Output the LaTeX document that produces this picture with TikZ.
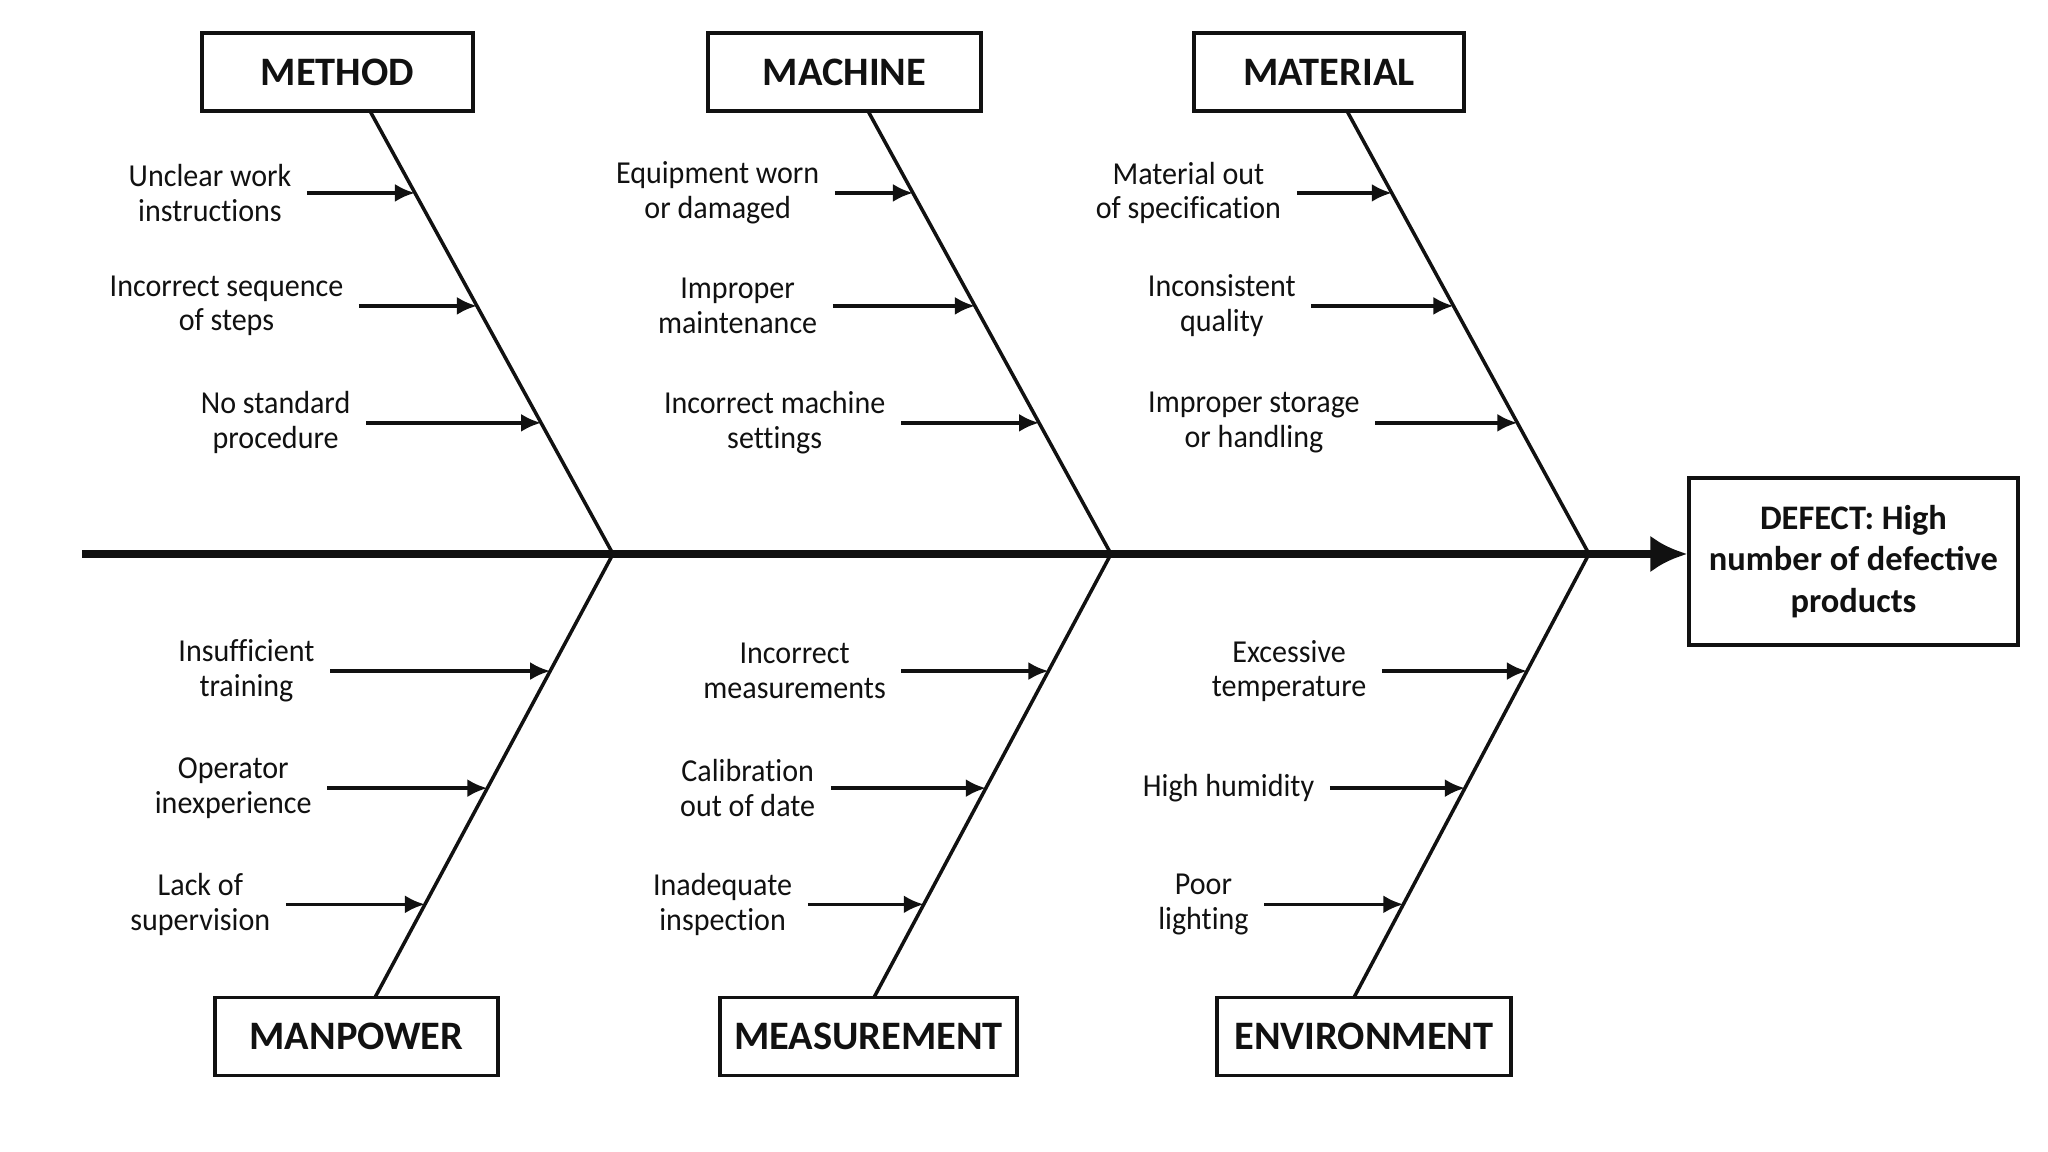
\documentclass[tikz,border=0pt]{standalone}
\usepackage{fontspec}
\setmainfont{Carlito}
\newfontfamily\causefont{Carlito}[FakeStretch=0.94, Ligatures=NoCommon]
\usetikzlibrary{arrows.meta,calc,positioning}
\definecolor{InkBlack}{HTML}{111111}

\begin{document}
\begin{tikzpicture}[
    catbox/.style={draw=InkBlack, line width=1pt, minimum height=0.78cm, inner sep=0pt,
      text=InkBlack, font=\fontsize{11.5}{13}\selectfont\bfseries},
    cause/.style={align=center, inner xsep=0.15cm, inner ysep=0pt, text=InkBlack,
      font=\causefont\fontsize{9.1}{9.9}\selectfont},
    bone/.style={draw=InkBlack, line width=1pt},
    causearrow/.style={InkBlack, line width=1pt, -{Latex[length=2mm,width=1.8mm]}}]
  \useasboundingbox (0,0) rectangle (20.48,11.52);

  \node[draw=InkBlack, line width=1pt, minimum width=3.29cm, minimum height=1.67cm,
    align=center, text=InkBlack, font=\fontsize{9.8}{11.9}\selectfont\bfseries]
    (defect) at (18.535,5.905) {DEFECT: High\\number of defective\\products};
  \coordinate (tail) at (0.82,5.98);
  \draw[InkBlack, line width=2.2pt, -{Latex[length=3.7mm,width=3.7mm]}]
    (tail) -- (tail -| defect.west);

  \node[catbox, minimum width=2.71cm] (method) at (3.375,10.80) {METHOD};
  \node[catbox, minimum width=2.73cm] (machine) at (8.445,10.80) {MACHINE};
  \node[catbox, minimum width=2.70cm] (material) at (13.29,10.80) {MATERIAL};
  \node[catbox, minimum width=2.83cm] (manpower) at (3.565,1.155) {MANPOWER};
  \node[catbox, minimum width=2.97cm] (measurement) at (8.685,1.155) {MEASUREMENT};
  \node[catbox, minimum width=2.94cm] (environment) at (13.64,1.155) {ENVIRONMENT};

  \coordinate (j1) at (6.13,5.98);
  \coordinate (j2) at (11.11,5.98);
  \coordinate (j3) at (15.89,5.98);
  \coordinate (mt) at (3.70,10.41);
  \coordinate (ct) at (8.68,10.41);
  \coordinate (lt) at (13.47,10.41);
  \coordinate (pb) at (3.75,1.545);
  \coordinate (sb) at (8.74,1.545);
  \coordinate (eb) at (13.54,1.545);

  \draw[bone] (mt) -- (j1) -- (pb);
  \draw[bone] (ct) -- (j2) -- (sb);
  \draw[bone] (lt) -- (j3) -- (eb);

  % METHOD
  \coordinate (m1) at ($(mt)!0.185!(j1)$);
  \coordinate (m2) at ($(mt)!0.440!(j1)$);
  \coordinate (m3) at ($(mt)!0.704!(j1)$);
  \node[cause, left=1.08cm of m1] (unclear) {Unclear work\\instructions};
  \node[cause, left=1.18cm of m2] (sequence) {Incorrect sequence\\of steps};
  \node[cause, left=1.75cm of m3] (nostd) {No standard\\procedure};
  \draw[causearrow] (unclear) -- (m1);
  \draw[causearrow] (sequence) -- (m2);
  \draw[causearrow] (nostd) -- (m3);

  % MACHINE
  \coordinate (c1) at ($(ct)!0.185!(j2)$);
  \coordinate (c2) at ($(ct)!0.440!(j2)$);
  \coordinate (c3) at ($(ct)!0.704!(j2)$);
  \node[cause, left=0.78cm of c1] (worn) {Equipment worn\\or damaged};
  \node[cause, left=1.42cm of c2] (maint) {Improper\\maintenance};
  \node[cause, left=1.38cm of c3] (settings) {Incorrect machine\\settings};
  \draw[causearrow] (worn) -- (c1);
  \draw[causearrow] (maint) -- (c2);
  \draw[causearrow] (settings) -- (c3);

  % MATERIAL
  \coordinate (l1) at ($(lt)!0.185!(j3)$);
  \coordinate (l2) at ($(lt)!0.440!(j3)$);
  \coordinate (l3) at ($(lt)!0.704!(j3)$);
  \node[cause, left=0.95cm of l1] (outspec) {Material out\\of specification};
  \node[cause, left=1.42cm of l2] (quality) {Inconsistent\\quality};
  \node[cause, left=1.42cm of l3] (storage) {Improper storage\\or handling};
  \draw[causearrow] (outspec) -- (l1);
  \draw[causearrow] (quality) -- (l2);
  \draw[causearrow] (storage) -- (l3);

  % MANPOWER
  \coordinate (p1) at ($(j1)!0.264!(pb)$);
  \coordinate (p2) at ($(j1)!0.528!(pb)$);
  \coordinate (p3) at ($(j1)!0.790!(pb)$);
  \node[cause, left=2.20cm of p1] (training) {Insufficient\\training};
  \node[cause, left=1.60cm of p2] (inexp) {Operator\\inexperience};
  \node[cause, left=1.39cm of p3] (superv) {Lack of\\supervision};
  \draw[causearrow] (training) -- (p1);
  \draw[causearrow] (inexp) -- (p2);
  \draw[causearrow] (superv) -- (p3);

  % MEASUREMENT
  \coordinate (s1) at ($(j2)!0.264!(sb)$);
  \coordinate (s2) at ($(j2)!0.528!(sb)$);
  \coordinate (s3) at ($(j2)!0.790!(sb)$);
  \node[cause, left=1.47cm of s1] (incmeas) {Incorrect\\measurements};
  \node[cause, left=1.55cm of s2] (calib) {Calibration\\out of date};
  \node[cause, left=1.16cm of s3] (inspect) {Inadequate\\inspection};
  \draw[causearrow] (incmeas) -- (s1);
  \draw[causearrow] (calib) -- (s2);
  \draw[causearrow] (inspect) -- (s3);

  % ENVIRONMENT
  \coordinate (e1) at ($(j3)!0.264!(eb)$);
  \coordinate (e2) at ($(j3)!0.528!(eb)$);
  \coordinate (e3) at ($(j3)!0.790!(eb)$);
  \node[cause, left=1.45cm of e1] (temp) {Excessive\\temperature};
  \node[cause, left=1.35cm of e2] (humid) {High humidity};
  \node[cause, left=1.39cm of e3] (light) {Poor\\lighting};
  \draw[causearrow] (temp) -- (e1);
  \draw[causearrow] (humid) -- (e2);
  \draw[causearrow] (light) -- (e3);
\end{tikzpicture}
\end{document}
